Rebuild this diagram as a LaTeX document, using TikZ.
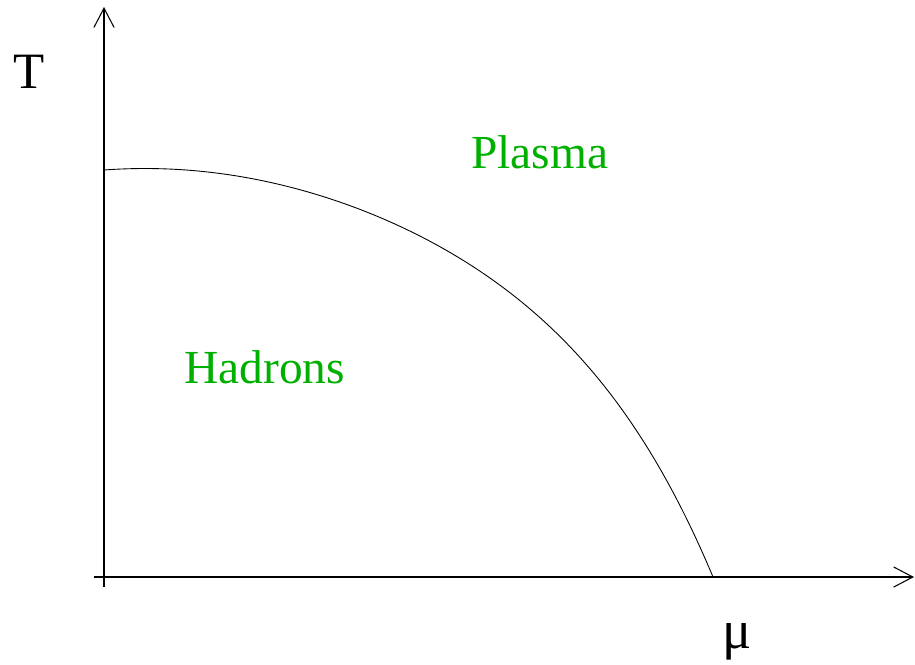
\documentclass[tikz,border=0pt]{standalone}
\usepackage{fontspec}
\setmainfont{Liberation Serif}
\usepackage{xcolor}
\usetikzlibrary{arrows.meta}
\definecolor{phasec}{HTML}{00B000}
\tikzset{
  ax/.style={-{Straight Barb[length=11pt,width=11.5pt]},line width=0.6pt,black},
  lbl/.style={anchor=base west,inner sep=0pt,font=\fontsize{29}{33}\selectfont},
  phase/.style={lbl,text=phasec,font=\fontsize{27}{31}\selectfont}
}
\begin{document}
\begin{tikzpicture}[x=0.02cm,y=-0.02cm,
  declare function={vv(\t)=((\t-145)/568)^2;}]
\useasboundingbox (0,0) rectangle (915,664);
\coordinate (o) at (104,577);
\coordinate (ybot) at (104,587);
\coordinate (ytop) at (104,7);
\coordinate (xleft) at (94,577);
\coordinate (xright) at (914,577);
\coordinate (mu0) at (713,577);
\draw[ax] (ybot)--(ytop);
\draw[ax] (xleft)--(xright);
% transition line
\draw[line width=0.5pt] plot[domain=104:713,samples=150,smooth]
  (\x,{577-408.5*(1-vv(\x))*(1+0.3*vv(\x)+0.36*vv(\x)^2)});
\node[lbl] (tlab) at (13,88) {T};
\node[lbl,font=\fontsize{31}{35}\selectfont] (mulab) at (722,648) {μ};
\node[phase] (plasma) at (471,168) {Plasma};
\node[phase] (hadrons) at (184,383) {Hadrons};
\end{tikzpicture}
\end{document}
